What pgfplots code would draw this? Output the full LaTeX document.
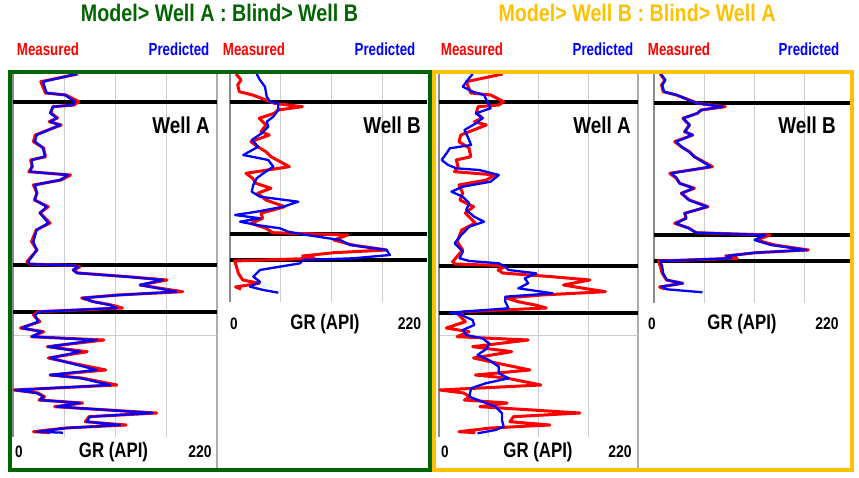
\documentclass[border=0pt]{standalone}
\usepackage{pgfplots}
\pgfplotsset{compat=1.18}
\usepackage{pgfplotstable}
\usepackage{fontspec}
\setmainfont{Liberation Sans}[FakeStretch=0.82]
\newfontfamily\narfont{Liberation Sans}[FakeStretch=0.76]
\newfontfamily\grfont{Liberation Sans}[FakeStretch=0.80]
\definecolor{dgreen}{HTML}{006400}
\definecolor{gold}{HTML}{FFC000}
\definecolor{gridgray}{HTML}{CCCCCC}
\definecolor{axgray}{HTML}{8C8C8C}

% Well A measured GR (API) vs depth
\pgfplotstableread{
gr depth
70 74
30 81.7
35 93
57 95
71 101.7
66 105
43 106.7
41 113
48 118
39 121.7
52 125
24 135
22 141.7
33 148
35 156.7
19 160
21 166.7
17 171.7
62 175
52 180
22 185
26 193
23 200
38 206.7
29 213
40 223
25 230
20 241.7
26 250
15 261.7
18 264
66 265.5
72 267
65 270
70 273
124 276.7
166 280
137 285
157 288
183 291.7
113 295
74 298
87 301.7
106 305
118 308
27 311.7
22 315
29 321.7
8 328
33 331.7
20 336.7
98 340
37 346.7
80 351.7
38 358
63 363
100 370
40 375
74 378
112 385
1 390
27 393
34 396.7
28 400
75 403
45 406.7
155 413
82 416.7
78 421.7
122 425
57 428
22 431.7
40 432.7
}\wellAmeas

% Panel 1: predicted for Well A (model Well A)
\pgfplotstableread{
gr depth
68.7 74
32.3 81.7
36.3 93
56 95
66.8 101.7
64.7 105
43.1 106.7
39.9 113
47.1 118
39.9 121.7
50.7 125
25.5 135
23.7 141.7
32.3 148
34.5 156.7
20.2 160
20.2 166.7
18.3 171.7
59.3 175
50.7 180
23.7 185
25.5 193
23.7 200
36.3 206.7
29.1 213
38.1 223
25.5 230
21.9 241.7
25.5 250
16.5 261.7
18.3 264
64.7 265.5
70 267
64.7 270
68.7 273
122.6 276.7
161.7 280
137 285
155 288
176.5 291.7
115.4 295
75.5 298
86.2 301.7
104.6 305
111.8 308
29.1 311.7
23.7 315
27 321.7
9.4 328
30.9 331.7
20.2 336.7
90.2 340
38.1 346.7
72.2 351.7
39.9 358
61.4 363
90.2 370
39.9 375
72.2 378
104.6 385
2.2 390
25.5 393
32.7 396.7
29.1 400
72.2 403
47.1 406.7
151 413
83 416.7
79.5 421.7
115.4 425
57.9 428
25.5 431.7
53.9 432.7
}\pApred

% Well B measured
\pgfplotstableread{
gr depth
6.6 74
11.9 80
8.3 85
10 91.7
24.4 95
38.8 100
47.8 103.3
78 106.7
51.4 110
47.8 113.3
31.6 118.3
38.8 125
33.4 131.7
42.4 135
22.6 141.7
29.8 146.7
38.8 151.7
44.2 156.7
64 166.7
17.2 173.3
24.4 178.3
28 183.3
44.2 188.3
29.8 193.3
38.8 200
59 206.7
33.4 213.3
35.2 218.3
22.6 223.3
38.8 228.3
46 232.7
127 235
112 240
132 245
169 250
112 252.7
78.3 256
91 258.3
5 261
7 266.7
9 273.3
13.7 280
31.6 283.3
6 287
12 289
}\wellBmeas

% Panel 2: predicted for Well B (model Well A, blind)
\pgfplotstableread{
gr depth
28.8 74
32.3 80
37.7 86.7
39.6 96.7
43.1 101.7
52.1 103.3
52.1 110
46.7 116.7
39.6 121.7
41.3 126.7
34.2 133.3
23.4 140
30.5 146.7
14.3 155
41.3 160
46.7 166.7
35.9 173.3
28.8 178.3
25.1 185
23.4 191.7
32.3 196.7
73.6 201.7
57.5 206.7
28.8 211.7
5.4 215
32.3 218.3
10.8 221.7
28.8 225
53.9 228.3
62.8 231.7
82.7 235
118.6 240
129.4 245
168.9 250
172.5 255
132.9 258.3
79 260
75.5 263.3
32.3 270
25.1 276.7
32.3 281.7
21.6 286.7
35.9 290
52.1 292.7
}\pBpred

% Panel 3: predicted for Well A (model Well B, blind)
\pgfplotstableread{
gr depth
37 74
31.6 80
26.2 86.7
37 91.7
49.6 95
53.1 101.7
56.8 108.3
40.6 113.3
47.8 118.3
40.6 123.3
28 130
31.6 136.7
35.3 145
11.9 148.3
8.3 153.3
2.9 160
10 165
19.1 168.3
44.2 170
65.8 175
56.8 181.7
26.2 186.7
13.7 191.7
26.2 196.7
33.4 203.3
29.9 210
38.8 216.7
49.6 221.7
33.4 226.7
24.5 235
17.2 243.3
26.2 251.7
22.6 258.3
33.4 261
65.8 263.3
73 266.7
76.5 270
107 273.3
94.5 278.3
98.1 283.3
87.3 288.3
125 293.3
73 296.7
73 301.7
76.5 308.3
11.9 312.7
24.5 315
37 320
38.8 325
26.2 330
29.9 335
47.8 338.3
55 343.3
53.1 348.3
42.4 355
55 360
65.8 366.7
65.8 373.3
76.5 378.3
51.4 383.3
35.3 388.3
33.4 396.7
47.8 401.7
62.2 406.7
69.3 413.3
69.3 420
71.1 426.7
62.2 430
42.4 433.3
}\pCpred

% Panel 4: predicted for Well B (model Well B)
\pgfplotstableread{
gr depth
7.5 74
12.5 80
9 85
11 91.7
25 95
38 100
47 103.3
75 106.7
52 110
47 113.3
32 118.3
39 125
34 131.7
42 135
24 141.7
30 146.7
38 151.7
44 156.7
62 166.7
19 173.3
25 178.3
28 183.3
43 188.3
30 193.3
38 200
58 206.7
34 213.3
35 218.3
24 223.3
38 228.3
46 232.7
122 235
110 240
128 245
167 250
110 252.7
80 256
84 258.3
7 261
9 266.7
10 273.3
14 280
31 283.3
8 286.7
14 289.3
53 292.3
}\pDpred

\pgfplotsset{
  logpanel/.style={
    scale only axis, anchor=north west, clip=false,
    xmin=0, xmax=220, y dir=reverse,
    axis line style={draw=none},
    xtick={55,110,165}, xticklabels={}, ytick=\empty,
    major tick length=0pt,
    xmajorgrids, grid style={gridgray, line width=1pt},
  },
  meas/.style={red, line width=3pt, line join=round},
  pred/.style={blue, line width=2.3pt, line join=round},
  topline/.style={black, line width=3.3pt},
}

\begin{document}
\begin{tikzpicture}[x=1pt,y=1pt]
\useasboundingbox (0,0) rectangle (859,478);

% separators
\draw[gridgray!85!black, line width=1.2pt] (217,406) -- (217,8);
\draw[gridgray!85!black, line width=1.2pt] (638,406) -- (638,8);

% Panel 1
\begin{axis}[logpanel, at={(13pt,406pt)}, width=204pt, height=365pt, ymin=72, ymax=437]
\addplot[gridgray, line width=1pt] coordinates {(0,336) (220,336)};
\addplot[axgray, line width=2pt] coordinates {(0,72) (0,437)};
\addplot[topline] coordinates {(0,102) (220,102)};
\addplot[topline] coordinates {(0,265) (220,265)};
\addplot[topline] coordinates {(0,312) (220,312)};
\addplot[meas] table[x=gr, y=depth] {\wellAmeas};
\addplot[pred] table[x=gr, y=depth] {\pApred};
\end{axis}

% Panel 2
\begin{axis}[logpanel, at={(230pt,406pt)}, width=197pt, height=230pt, xmax=212.5, ymin=72, ymax=302]
\addplot[axgray, line width=2pt] coordinates {(0,72) (0,302)};
\addplot[topline] coordinates {(0,102) (212.5,102)};
\addplot[topline] coordinates {(0,234) (212.5,234)};
\addplot[topline] coordinates {(0,260) (212.5,260)};
\addplot[meas] table[x=gr, y=depth] {\wellBmeas};
\addplot[pred] table[x=gr, y=depth] {\pBpred};
\end{axis}

% Panel 3
\begin{axis}[logpanel, at={(439pt,406pt)}, width=199pt, height=365pt, xmax=219, ymin=72, ymax=437]
\addplot[gridgray, line width=1pt] coordinates {(0,336) (219,336)};
\addplot[axgray, line width=2pt] coordinates {(0,72) (0,437)};
\addplot[topline] coordinates {(0,102) (219,102)};
\addplot[topline] coordinates {(0,266) (219,266)};
\addplot[topline] coordinates {(0,313) (219,313)};
\addplot[meas] table[x=gr, y=depth] {\wellAmeas};
\addplot[pred] table[x=gr, y=depth] {\pCpred};
\end{axis}

% Panel 4
\begin{axis}[logpanel, at={(654pt,406pt)}, width=198pt, height=231pt, xmax=216.7, ymin=72, ymax=303]
\addplot[axgray, line width=2pt] coordinates {(0,72) (0,303)};
\addplot[topline] coordinates {(0,103) (216.7,103)};
\addplot[topline] coordinates {(0,235) (216.7,235)};
\addplot[topline] coordinates {(0,261) (216.7,261)};
\addplot[meas] table[x=gr, y=depth] {\wellBmeas};
\addplot[pred] table[x=gr, y=depth] {\pDpred};
\end{axis}

% frames
\draw[dgreen, line width=4pt] (9.5,405.7) rectangle (429.5,8);
\draw[gold, line width=4pt] (434,405.7) rectangle (851.7,7.5);

% titles
\node[anchor=base, inner sep=0, text=dgreen, font=\fontsize{24}{28}\selectfont\bfseries] at (219.5,456) {Model> Well A : Blind> Well B};
\node[anchor=base, inner sep=0, text=gold, font=\fontsize{24}{28}\selectfont\bfseries] at (637,456) {Model> Well B : Blind> Well A};

% Measured / Predicted headers
\foreach \xm/\xp in {48/179, 254/385, 472/603, 679/809} {
  \node[anchor=base, inner sep=0, text=red, font=\narfont\fontsize{17.5}{20}\selectfont\bfseries] at (\xm,422) {Measured};
  \node[anchor=base, inner sep=0, text=blue, font=\narfont\fontsize{17.5}{20}\selectfont\bfseries] at (\xp,422) {Predicted};
}

% Well names
\node[anchor=base, inner sep=0, font=\fontsize{23}{27}\selectfont\bfseries] at (181,344) {Well A};
\node[anchor=base, inner sep=0, font=\fontsize{23}{27}\selectfont\bfseries] at (392,344) {Well B};
\node[anchor=base, inner sep=0, font=\fontsize{23}{27}\selectfont\bfseries] at (602,344) {Well A};
\node[anchor=base, inner sep=0, font=\fontsize{23}{27}\selectfont\bfseries] at (807,344) {Well B};

% axis labels
\foreach \xz/\xg/\xt/\yb in {19/113.5/200/20, 234/325/409.5/148, 445/538/620/20, 652/742/827/148} {
  \node[anchor=base, inner sep=0, font=\fontsize{16.5}{19}\selectfont\bfseries] at (\xz,\yb) {0};
  \node[anchor=base, inner sep=0, font=\grfont\fontsize{21}{25}\selectfont\bfseries] at (\xg,\yb) {GR (API)};
  \node[anchor=base, inner sep=0, font=\fontsize{17}{20}\selectfont\bfseries] at (\xt,\yb) {220};
}
\end{tikzpicture}
\end{document}
